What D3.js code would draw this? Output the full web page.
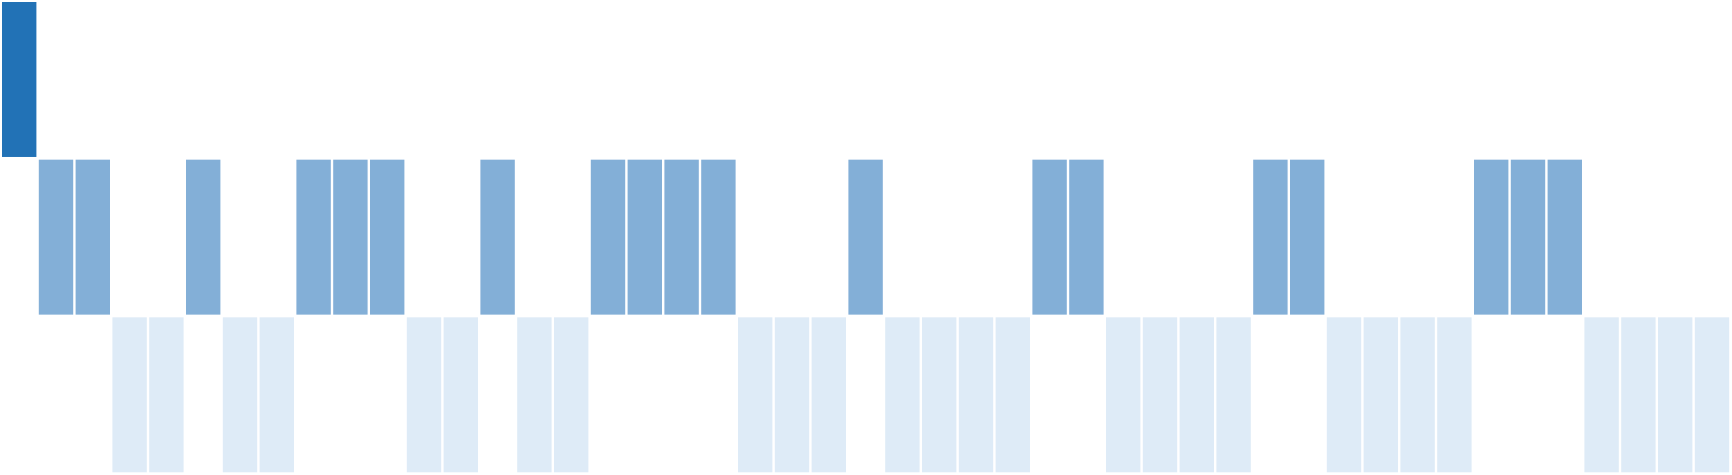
<!DOCTYPE html>
<html><head><meta charset="utf-8">
<script src="https://cdn.jsdelivr.net/npm/d3@7"></script>
<style>html,body{margin:0;padding:0;background:#fff;overflow:hidden}</style>
</head><body>
<svg id="chart" width="1732" height="475"></svg>
<script>
const steps = d3.range(47);
const levels = [3, 2, 2, 1, 1, 2, 1, 1, 2, 2, 2, 1, 1, 2, 1, 1, 2, 2, 2, 2, 1, 1, 1, 2,
                1, 1, 1, 1, 2, 2, 1, 1, 1, 1, 2, 2, 1, 1, 1, 1, 2, 2, 2, 1, 1, 1, 1];
const levelDomain = [3, 2, 1];
const levelColors = ["#2272b6", "#83afd7", "#deebf7"];

const W = 1729.6, H = 473;
const svg = d3.select("#chart");
const x = d3.scaleBand().domain(steps).range([0, W]);
const y = d3.scaleBand().domain(levelDomain).range([0, H]);
const color = d3.scaleOrdinal().domain(levelDomain).range(levelColors);

svg.selectAll("rect.cell").data(steps).join("rect")
  .attr("class", "cell")
  .attr("x", i => x(i) + 2)
  .attr("y", i => y(levels[i]) + 2)
  .attr("width", x.bandwidth() - 2.4)
  .attr("height", y.bandwidth() - 2.7)
  .attr("fill", i => color(levels[i]));
</script>
</body></html>
